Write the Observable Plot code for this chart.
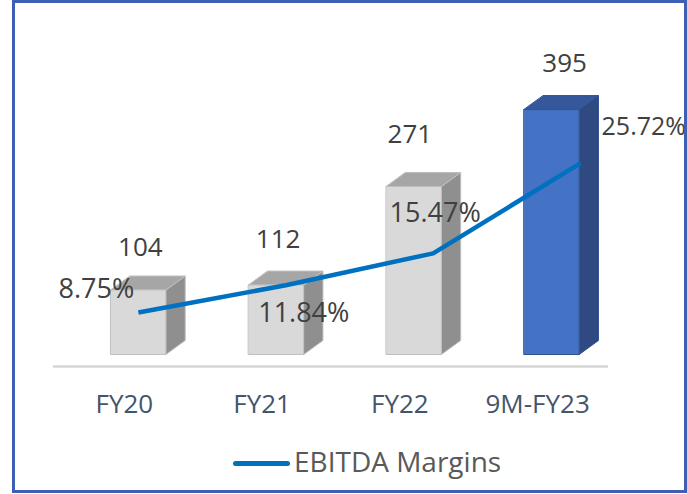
<!DOCTYPE html>
<html><head><meta charset="utf-8">
<script src="https://cdn.jsdelivr.net/npm/d3@7"></script>
<script src="https://cdn.jsdelivr.net/npm/@observablehq/plot@0.6"></script>
<style>
html,body{margin:0;padding:0;background:#fff;width:687px;height:494px;overflow:hidden;font-family:"Open Sans",sans-serif;}
#chart{position:absolute;left:0;top:0;}
#frame{position:absolute;left:12px;top:0;width:669px;height:487px;border:3px solid #3f5fb4;pointer-events:none;}
#legend{position:absolute;left:233px;top:442px;display:flex;align-items:center;font-size:28px;color:#595959;line-height:38px;white-space:nowrap;}
#legend .sw{display:inline-block;width:57px;height:5px;border-radius:3px;background:#0070c0;margin-right:4px;margin-top:4px;}
</style></head><body>
<div id="chart"></div>
<div id="legend"><span class="sw"></span><span>EBITDA Margins</span></div>
<div id="frame"></div>
<script>
// ---- data ----
const categories = ["FY20", "FY21", "FY22", "9M-FY23"];
const ebitda = [104, 112, 271, 395];
const margins = [8.75, 11.84, 15.47, 25.72];
const valueLabels = ["104", "112", "271", "395"];
const marginLabels = ["8.75%", "11.84%", "15.47%", "25.72%"];
const highlighted = [false, false, false, true];

// ---- styling / layout constants ----
const BAR_HALF = 0.2, DEPTH_X = 0.14, DEPTH_Y = 22.6;   // 3D bar geometry (x units / y units)
const LINE_SPREAD = 1.07;                                  // perspective spread of the line series
const secondary = m => m * 14.2 - 56.5;                    // margin % -> primary axis units
const valueNudge = [[2, -42], [2, -45], [-4, -52], [13, -46]];
const marginNudge = [[-42, -23, "middle", 27], [18, 28, "middle", 27], [2, -40, "middle", 27], [21, -36, "start", 25]];
const colors = {
  grey: {front: "#d9d9d9", side: "#8f8f8f", top: "#a6a6a6", stroke: "#bfbfbf"},
  blue: {front: "#4472c4", side: "#2e4a80", top: "#35579b", stroke: "#2f528f"}
};

const idx = categories.map((_, i) => i);

// build 3D faces
function faces(face) {
  const pts = [];
  idx.forEach(i => {
    const v = ebitda[i], l = i - BAR_HALF, r = i + BAR_HALF;
    let poly;
    if (face === "front") poly = [[l, 0], [r, 0], [r, v], [l, v]];
    else if (face === "side") poly = [[r, 0], [r + DEPTH_X, DEPTH_Y], [r + DEPTH_X, v + DEPTH_Y], [r, v]];
    else poly = [[l, v], [r, v], [r + DEPTH_X, v + DEPTH_Y], [l + DEPTH_X, v + DEPTH_Y]];
    poly.forEach(([x, y]) => pts.push({x, y, key: face + i, hi: highlighted[i]}));
  });
  return pts;
}

const marks = [];
marks.push(Plot.ruleY([0], {x1: -0.617, x2: 3.413, dy: 12, stroke: "#d6d6d6", strokeWidth: 2.5}));
for (const face of ["side", "top", "front"]) {
  const pts = faces(face);
  for (const grp of ["grey", "blue"]) {
    const data = pts.filter(p => (grp === "blue") === p.hi);
    marks.push(Plot.line(data, {x: "x", y: "y", z: "key", curve: "linear-closed",
      fill: colors[grp][face], stroke: colors[grp].stroke, strokeWidth: 1}));
  }
}
marks.push(Plot.line(idx, {x: i => i * LINE_SPREAD, y: i => secondary(margins[i]),
  stroke: "#0070c0", strokeWidth: 4.5, strokeLinecap: "butt"}));
idx.forEach(i => {
  marks.push(Plot.text([i], {x: d => d, y: d => ebitda[d], text: d => valueLabels[d],
    dx: valueNudge[i][0], dy: valueNudge[i][1], fontSize: 26, fill: "#404040"}));
  marks.push(Plot.text([i], {x: d => d * LINE_SPREAD, y: d => secondary(margins[d]), text: d => marginLabels[d],
    dx: marginNudge[i][0], dy: marginNudge[i][1], textAnchor: marginNudge[i][2], fontSize: marginNudge[i][3], fill: "#404040"}));
});
marks.push(Plot.text(idx, {x: d => d, y: 0, text: d => categories[d], dx: -14, dy: 50, fontSize: 26, fill: "#44546a"}));

const chart = Plot.plot({
  width: 687, height: 430,
  marginLeft: 69, marginRight: 67, marginTop: 44, marginBottom: 76,
  x: {domain: [-0.5, 3.5], axis: null},
  y: {domain: [0, 500], axis: null},
  style: {fontFamily: "'Open Sans', sans-serif", background: "transparent", overflow: "visible"},
  marks
});
document.getElementById("chart").appendChild(chart);
</script>
</body></html>
